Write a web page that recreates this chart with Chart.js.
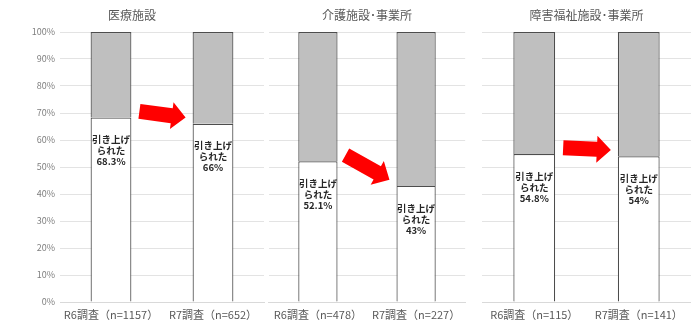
<!DOCTYPE html>
<html lang="ja">
<head>
<meta charset="UTF-8">
<title>賃金の引き上げ状況</title>
<script src="https://cdn.jsdelivr.net/npm/chart.js"></script>
<style>
  html, body { margin: 0; padding: 0; background: #fff; }
  #wrap { position: relative; width: 700px; height: 331px; overflow: hidden; }
  #wrap canvas { position: absolute; top: 0; }
</style>
</head>
<body>
<div id="wrap">
  <canvas id="chart1" width="198" height="331" style="left:268px"></canvas>
  <canvas id="chart2" width="209" height="331" style="left:482px"></canvas>
  <canvas id="chart0" width="304" height="331" style="left:0px"></canvas>
</div>
<script>
// データ
const panelTitles = ['医療施設', '介護施設･事業所', '障害福祉施設･事業所'];
const surveyLabels = [
  ['R6調査（n=1157）', 'R7調査（n=652）'],
  ['R6調査（n=478）', 'R7調査（n=227）'],
  ['R6調査（n=115）', 'R7調査（n=141）']
];
const raisedShare = [[68.3, 66], [52.1, 43], [54.8, 54]];
const otherShare = [[31.7, 34], [47.9, 57], [45.2, 46]];
const barLabelLines = ['引き上げ', 'られた'];

const FONT = '"Noto Sans CJK JP", "Noto Sans", sans-serif';

// 白い棒の中のラベル
const insideLabels = {
  id: 'insideLabels',
  afterDatasetsDraw(chart) {
    const ctx = chart.ctx;
    const bars = chart.getDatasetMeta(0).data;
    const vals = chart.data.datasets[0].data;
    ctx.save();
    ctx.fillStyle = '#262626';
    ctx.font = 'bold 9.5px ' + FONT;
    ctx.textAlign = 'center';
    ctx.textBaseline = 'middle';
    bars.forEach((bar, i) => {
      const lines = barLabelLines.concat(vals[i] + '%');
      lines.forEach((t, k) => ctx.fillText(t, bar.x, bar.y + 22 + k * 11));
    });
    ctx.restore();
  }
};

// 棒の間の赤い矢印
const arrowPlugin = {
  id: 'arrow',
  afterDatasetsDraw(chart) {
    const ctx = chart.ctx;
    const bars = chart.getDatasetMeta(0).data;
    const vals = chart.data.datasets[0].data;
    const ys = chart.scales.y;
    const x0 = bars[0].x + bars[0].width / 2 + 8;
    const x1 = bars[1].x - bars[1].width / 2 - 7;
    const y0 = ys.getPixelForValue(vals[0] + 2.3);
    const y1 = ys.getPixelForValue(vals[1] + 2.3);
    const ang = Math.atan2(y1 - y0, x1 - x0);
    const len = Math.hypot(x1 - x0, y1 - y0);
    const hl = 14, sw = 7.5, hw = 13.5;
    ctx.save();
    ctx.translate(x0, y0);
    ctx.rotate(ang);
    ctx.beginPath();
    ctx.moveTo(0, -sw);
    ctx.lineTo(len - hl, -sw);
    ctx.lineTo(len - hl, -hw);
    ctx.lineTo(len, 0);
    ctx.lineTo(len - hl, hw);
    ctx.lineTo(len - hl, sw);
    ctx.lineTo(0, sw);
    ctx.closePath();
    ctx.fillStyle = '#ff0000';
    ctx.fill();
    ctx.restore();
  }
};

panelTitles.forEach((title, p) => {
  const first = p === 0;
  new Chart(document.getElementById('chart' + p), {
    type: 'bar',
    data: {
      labels: surveyLabels[p],
      datasets: [
        { label: '引き上げられた', data: raisedShare[p], backgroundColor: '#ffffff', borderColor: '#4d4d4d', borderWidth: 1.2 },
        { label: 'その他', data: otherShare[p], backgroundColor: '#bfbfbf', borderColor: '#4d4d4d', borderWidth: 1.2 }
      ]
    },
    options: {
      responsive: false,
      animation: false,
      // 1枚目は右に余白を取ってタイトルを軸ラベル込みの中央に置く
      layout: { padding: { left: 0, right: first ? 40 : 0, top: 0, bottom: 0 } },
      datasets: { bar: { barPercentage: 0.4, categoryPercentage: 1 } },
      plugins: {
        legend: { display: false },
        tooltip: { enabled: false },
        title: {
          display: true,
          text: title,
          color: '#595959',
          font: { family: FONT, size: 12, weight: 'normal' },
          padding: { top: 8, bottom: 9.6 }
        }
      },
      scales: {
        x: {
          stacked: true,
          grid: { display: false, drawTicks: false },
          border: { display: true, color: '#d9d9d9' },
          ticks: { color: '#595959', font: { family: FONT, size: 11 }, padding: 6, maxRotation: 0, autoSkip: false },
          afterFit(s) { s.height = 29; }
        },
        y: {
          stacked: true,
          min: 0,
          max: 100,
          ticks: {
            display: first,
            stepSize: 10,
            callback: v => v + '%',
            color: '#7f7f7f',
            font: { family: FONT, size: 9 },
            padding: 5
          },
          grid: { color: '#e3e3e3', drawTicks: false },
          border: { display: false },
          afterFit(s) { s.width = first ? 60 : 0; }
        }
      }
    },
    plugins: [insideLabels, arrowPlugin]
  });
});
</script>
</body>
</html>
